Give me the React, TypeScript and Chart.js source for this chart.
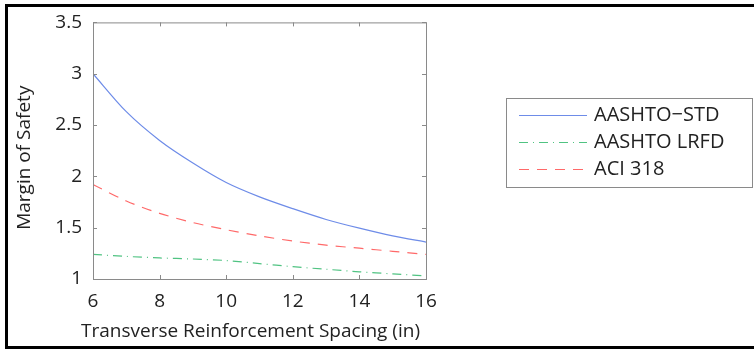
import React, { useEffect, useRef } from "react";
import { Chart, registerables } from "chart.js";

Chart.register(...registerables);

const spacing = [6, 7, 8, 9, 10, 11, 12, 13, 14, 15, 16];
const aashtoStd = [3.0, 2.63, 2.35, 2.13, 1.94, 1.80, 1.685, 1.58, 1.495, 1.42, 1.36];
const aashtoLrfd = [1.24, 1.22, 1.205, 1.195, 1.18, 1.15, 1.12, 1.095, 1.07, 1.05, 1.03];
const aci318 = [1.92, 1.76, 1.64, 1.55, 1.48, 1.42, 1.37, 1.33, 1.30, 1.27, 1.24];
const seriesNames = ["AASHTO\u2212STD", "AASHTO LRFD", "ACI 318"];
const xTicks = [6, 8, 10, 12, 14, 16];
const yTicks = [1, 1.5, 2, 2.5, 3, 3.5];
const xTitle = "Transverse Reinforcement Spacing (in)";
const yTitle = "Margin of Safety";

const FONT = "'Open Sans', 'Noto Sans', sans-serif";

const boxPlugin = {
  id: "boxPlugin",
  afterDraw(chart: any) {
    const { ctx, chartArea: a, scales } = chart;
    const xs = scales.x;
    const ys = scales.y;
    ctx.save();
    ctx.strokeStyle = "#8a8a8a";
    ctx.lineWidth = 1;
    ctx.strokeRect(a.left + 0.5, a.top + 0.5, a.right - a.left, a.bottom - a.top);
    const tl = 4;
    ctx.beginPath();
    xTicks.forEach((v) => {
      const px = Math.round(xs.getPixelForValue(v)) + 0.5;
      ctx.moveTo(px, a.bottom);
      ctx.lineTo(px, a.bottom - tl);
      ctx.moveTo(px, a.top);
      ctx.lineTo(px, a.top + tl);
    });
    yTicks.forEach((v) => {
      const py = Math.round(ys.getPixelForValue(v)) + 0.5;
      ctx.moveTo(a.left, py);
      ctx.lineTo(a.left + tl, py);
      ctx.moveTo(a.right, py);
      ctx.lineTo(a.right - tl, py);
    });
    ctx.stroke();

    // axis titles
    ctx.fillStyle = "#222";
    ctx.font = "19px " + FONT;
    ctx.textAlign = "center";
    ctx.textBaseline = "middle";
    ctx.fillText(xTitle, (a.left + a.right) / 2 - 9, a.bottom + 53);
    ctx.save();
    ctx.translate(a.left - 68, (a.top + a.bottom) / 2 + 7);
    ctx.rotate(-Math.PI / 2);
    ctx.fillText(yTitle, 0, 0);
    ctx.restore();

    // legend
    const lx = 506, ly = 98, lw = 246, lh = 89;
    ctx.strokeStyle = "#8a8a8a";
    ctx.strokeRect(lx + 0.5, ly + 0.5, lw, lh);
    const rows = [115, 142, 169];
    ctx.font = "20px " + FONT;
    chart.data.datasets.forEach((ds: any, i: number) => {
      const y = rows[i] + 0.5;
      ctx.save();
      ctx.strokeStyle = ds.borderColor;
      ctx.lineWidth = ds.borderWidth;
      ctx.setLineDash(ds.borderDash || []);
      ctx.beginPath();
      ctx.moveTo(519, y);
      ctx.lineTo(587, y);
      ctx.stroke();
      ctx.restore();
      ctx.fillStyle = "#222";
      ctx.textAlign = "left";
      ctx.textBaseline = "middle";
      ctx.fillText(ds.label, 594, rows[i]);
    });
    ctx.restore();
  },
};

export default function App() {
  const ref = useRef<HTMLCanvasElement>(null);
  useEffect(() => {
    if (!ref.current) return;
    const mk = (vals: number[]) => spacing.map((x, i) => ({ x, y: vals[i] }));
    const chart = new Chart(ref.current, {
      type: "line",
      data: {
        datasets: [
          { label: seriesNames[0], data: mk(aashtoStd), borderColor: "rgb(110,140,232)", borderWidth: 1.2, pointRadius: 0, tension: 0.3, fill: false },
          { label: seriesNames[1], data: mk(aashtoLrfd), borderColor: "rgb(80,195,130)", borderWidth: 1.2, borderDash: [9, 5, 1, 5], pointRadius: 0, tension: 0.3, fill: false },
          { label: seriesNames[2], data: mk(aci318), borderColor: "rgb(255,105,105)", borderWidth: 1.2, borderDash: [10, 8], pointRadius: 0, tension: 0.3, fill: false },
        ],
      },
      options: {
        animation: false,
        responsive: false,
        maintainAspectRatio: false,
        layout: { padding: { left: 0, top: 15, right: 328, bottom: 0 } },
        plugins: { legend: { display: false }, tooltip: { enabled: false } },
        scales: {
          x: {
            type: "linear",
            min: 6,
            max: 16,
            afterFit: (s: any) => { s.height = 70; },
            afterBuildTicks: (s: any) => { s.ticks = xTicks.map((v) => ({ value: v })); },
            grid: { display: false, drawTicks: false },
            border: { display: false },
            ticks: { color: "#222", font: { family: FONT, size: 19 }, padding: 11, maxRotation: 0, callback: (v: any) => String(v) },
          },
          y: {
            type: "linear",
            min: 1,
            max: 3.5,
            afterFit: (s: any) => { s.width = 93; },
            afterBuildTicks: (s: any) => { s.ticks = yTicks.map((v) => ({ value: v })); },
            grid: { display: false, drawTicks: false },
            border: { display: false },
            ticks: { color: "#222", font: { family: FONT, size: 19 }, padding: 11, callback: (v: any) => String(v) },
          },
        },
      },
      plugins: [boxPlugin],
    });
    return () => chart.destroy();
  }, []);
  return (
    <div style={{ position: "absolute", left: 0, top: 0, width: 754, height: 349, background: "#fff", overflow: "hidden" }}>
      <canvas ref={ref} width={754} height={349} style={{ position: "absolute", left: 0, top: 0 }} />
      <div style={{ position: "absolute", left: 5, top: 4, width: 760, height: 339, border: "3px solid #000", pointerEvents: "none" }} />
    </div>
  );
}
